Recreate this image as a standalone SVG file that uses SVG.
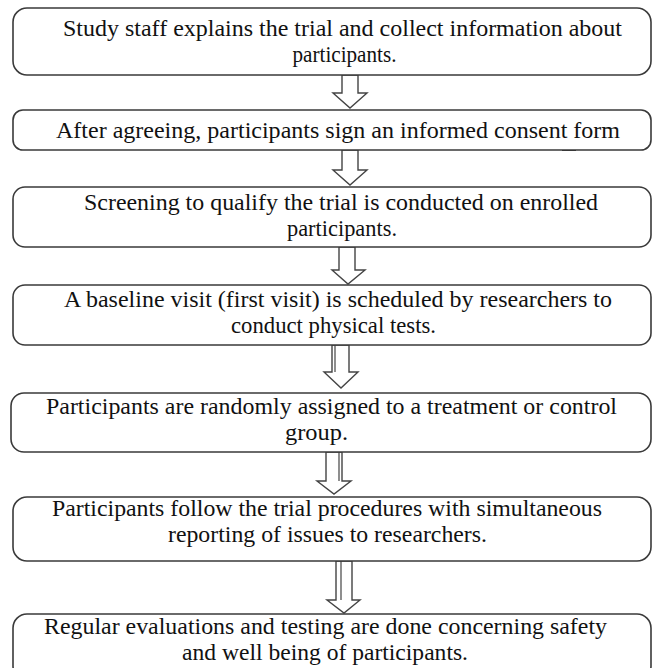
<svg xmlns="http://www.w3.org/2000/svg" width="657" height="668" viewBox="0 0 657 668">
<style>
.box{fill:#fff;stroke:#3a3a3a;stroke-width:1.6}
text{font-family:'Liberation Serif',serif;font-size:23px;fill:#111;text-anchor:middle}
.arr{fill:#fff;stroke:#444;stroke-width:1.4;stroke-linejoin:miter}
.in{stroke:#444;stroke-width:1.2;fill:none}
</style>
<rect width="657" height="668" fill="#fff"/>
<g id="connectors">
<polygon class="arr" points="342,75 358,75 358,93 367,93 350,108 333,93 342,93"/>
<polygon class="arr" points="342,150 358,150 358,170 367,170 350,185 333,170 342,170"/>
<polygon class="arr" points="339,247 355,247 355,270 365,270 348,284 332,270 339,270"/>
<polygon class="arr" points="332,345 349,345 349,372 358,372 341,388 324,372 332,372"/>
<line class="in" x1="335" y1="345" x2="335" y2="372"/>
<polygon class="arr" points="326,452 342,452 342,481 351,481 334,494 317,481 326,481"/>
<line class="in" x1="339" y1="452" x2="339" y2="481"/>
<polygon class="arr" points="336,561 352,561 352,600 360,600 344,613 327,600 336,600"/>
<line class="in" x1="341" y1="561" x2="341" y2="600"/>
<line x1="562" y1="150" x2="576" y2="150" stroke="#333" stroke-width="2"/>
</g>
<g id="n1" font-family="Liberation Serif">
<rect class="box" x="13" y="8" width="638" height="67" rx="14"/>
<text x="342.5" y="36" textLength="559" lengthAdjust="spacingAndGlyphs">Study staff explains the trial and collect information about</text>
<text x="344.5" y="62" textLength="104" lengthAdjust="spacingAndGlyphs">participants.</text>
</g>
<g id="n2" font-family="Liberation Serif">
<rect class="box" x="13" y="110" width="638" height="40" rx="10"/>
<text x="338" y="138" textLength="564" lengthAdjust="spacingAndGlyphs">After agreeing, participants  sign an informed consent form</text>
</g>
<g id="n3" font-family="Liberation Serif">
<rect class="box" x="13" y="187" width="638" height="60" rx="12"/>
<text x="341" y="210" textLength="514" lengthAdjust="spacingAndGlyphs">Screening to qualify the trial is conducted  on enrolled</text>
<text x="342" y="236" textLength="110" lengthAdjust="spacingAndGlyphs">participants.</text>
</g>
<g id="n4" font-family="Liberation Serif">
<rect class="box" x="13" y="285" width="638" height="60" rx="12"/>
<text x="338" y="307" textLength="548" lengthAdjust="spacingAndGlyphs">A baseline visit (first visit) is scheduled by researchers to</text>
<text x="333.5" y="333" textLength="205" lengthAdjust="spacingAndGlyphs">conduct physical tests.</text>
</g>
<g id="n5" font-family="Liberation Serif">
<rect class="box" x="11" y="393" width="640" height="59" rx="13"/>
<text x="331.5" y="414" textLength="571" lengthAdjust="spacingAndGlyphs">Participants are randomly assigned to a treatment  or control</text>
<text x="316.5" y="440" textLength="63" lengthAdjust="spacingAndGlyphs">group.</text>
</g>
<g id="n6" font-family="Liberation Serif">
<rect class="box" x="13" y="497" width="638" height="64" rx="14"/>
<text x="327" y="516" textLength="550" lengthAdjust="spacingAndGlyphs">Participants follow the trial procedures with simultaneous</text>
<text x="327.5" y="542" textLength="319" lengthAdjust="spacingAndGlyphs">reporting of issues to researchers.</text>
</g>
<g id="n7" font-family="Liberation Serif">
<rect class="box" x="13" y="614" width="638" height="66" rx="14"/>
<text x="325.5" y="634" textLength="563" lengthAdjust="spacingAndGlyphs">Regular evaluations  and testing are done concerning safety</text>
<text x="325" y="660" textLength="286" lengthAdjust="spacingAndGlyphs">and well being of participants.</text>
</g>
</svg>
